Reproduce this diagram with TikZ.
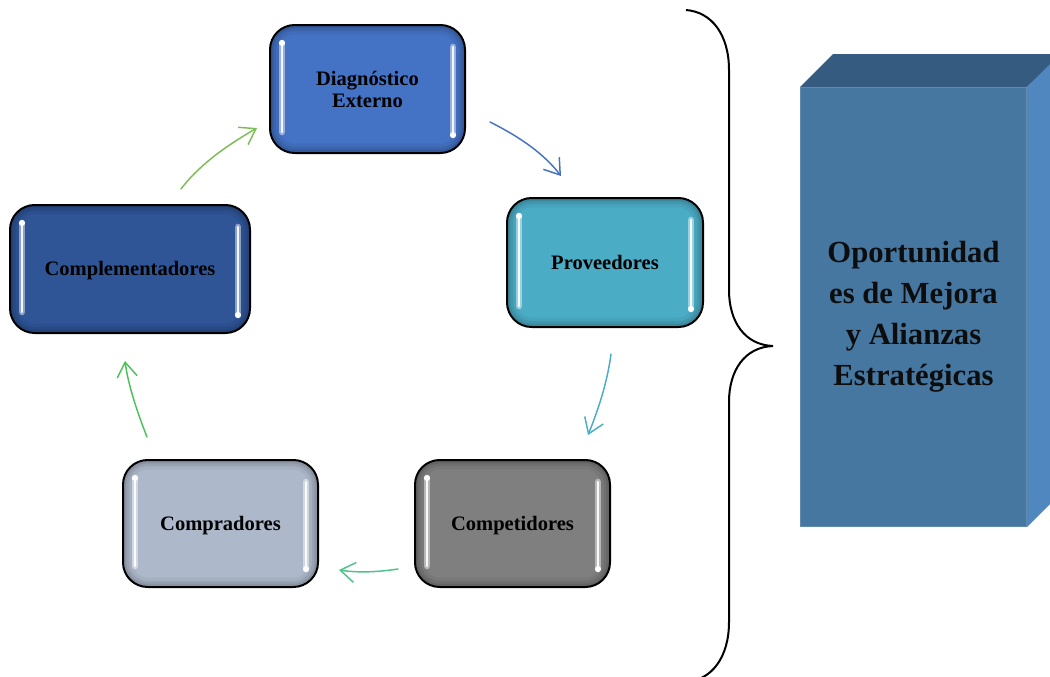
\documentclass[tikz,border=0pt]{standalone}
\usepackage{fontspec}
\setmainfont{Liberation Serif}
\usetikzlibrary{calc,arrows.meta}

\definecolor{diagblue}{HTML}{4472C4}
\definecolor{provteal}{HTML}{4BACC6}
\definecolor{compgray}{HTML}{7F7F7F}
\definecolor{comprgray}{HTML}{ADB9CA}
\definecolor{compldark}{HTML}{2F5597}
\definecolor{arrA}{HTML}{4472C4}
\definecolor{arrB}{HTML}{4BACC6}
\definecolor{arrC}{HTML}{4CC38A}
\definecolor{arrD}{HTML}{4DC05C}
\definecolor{arrE}{HTML}{7CBD55}
\definecolor{cubefront}{HTML}{4577A0}
\definecolor{cubetop}{HTML}{355C80}
\definecolor{cubeside}{HTML}{5087BE}

\tikzset{
  cyclebox/.style={
    draw=black, line width=1.5pt, rounded corners=18.5pt,
    font=\bfseries\fontsize{15.4}{16.5}\selectfont,
    align=center, text=black, inner sep=0pt,
    path picture={
      % soft inner shadow along the rim
      \foreach \w/\o in {14pt/0.05,9pt/0.07,5pt/0.09}
        \draw[black, opacity=\o, line width=\w, rounded corners=18.5pt]
          (path picture bounding box.north west) rectangle (path picture bounding box.south east);
      % glossy vertical highlights
      \coordinate (hlA) at ($(path picture bounding box.north west)+(12,18)$);
      \coordinate (hlB) at ($(path picture bounding box.south west)+(12,-21)$);
      \coordinate (hlC) at ($(path picture bounding box.north east)+(-12,22)$);
      \coordinate (hlD) at ($(path picture bounding box.south east)+(-12,-18)$);
      \draw[white, opacity=0.45, line width=5pt, line cap=round] (hlA) -- (hlB);
      \draw[white, opacity=0.45, line width=5pt, line cap=round] (hlC) -- (hlD);
      \draw[white, opacity=0.9, line width=2pt, line cap=round] (hlA) -- (hlB);
      \draw[white, opacity=0.9, line width=2pt, line cap=round] (hlC) -- (hlD);
      \fill[white] (hlA) circle (2.3pt);
      \fill[white] (hlD) circle (2.3pt);
    }
  },
  oneline/.style={text height=13.5pt, text depth=3.4pt},
  cyclearrow/.style={line width=1.1pt, line cap=round,
    -{Straight Barb[length=11pt,width=15pt,line width=1.1pt]}},
  bracestroke/.style={draw=black, line width=1.5pt},
  bigtext/.style={font=\bfseries\fontsize{23}{30.75}\selectfont, align=center, text=black!95}
}

\begin{document}
\begin{tikzpicture}[x=0.75pt,y=-0.75pt]
  \useasboundingbox (0,0) rectangle (1050,676);
  \clip (0,0) rectangle (1050,676);

  % cycle boxes
  \node[cyclebox, fill=diagblue, minimum width=146.25pt, minimum height=96pt]
    (diag) at (367.5,89) {Diagnóstico\\Externo};
  \node[cyclebox, oneline, fill=provteal, minimum width=147pt, minimum height=96.75pt]
    (prov) at (605,262.5) {Proveedores};
  \node[cyclebox, oneline, fill=compgray, minimum width=146.25pt, minimum height=95.25pt]
    (comp) at (512.5,523.5) {Competidores};
  \node[cyclebox, oneline, fill=comprgray, minimum width=146.25pt, minimum height=95.25pt]
    (compr) at (220.5,523.5) {Compradores};
  \node[cyclebox, oneline, fill=compldark, minimum width=180pt, minimum height=96pt]
    (compl) at (130,269) {Complementadores};

  % curved arrows of the cycle
  \draw[cyclearrow, arrA] ($(diag.south east)+(24,-32)$)
    .. controls +(32,16) and +(-16,-21) .. ($(prov.north)+(-44,-21)$);
  \draw[cyclearrow, arrB] ($(prov.south)+(6,26)$)
    .. controls +(-3,23) and +(13,-32) .. ($(comp.north east)+(-23,-24)$);
  \draw[cyclearrow, arrC] ($(comp.west)+(-16,45.5)$)
    .. controls +(-20,3) and +(20,3) .. ($(compr.east)+(20,46.5)$);
  \draw[cyclearrow, arrD] ($(compr.north west)+(25,-22)$)
    .. controls +(-13,-33) and +(2.5,19) .. ($(compl.south)+(-5,27)$);
  \draw[cyclearrow, arrE] ($(compl.north)+(51,-15)$)
    .. controls +(15.6,-20.8) and +(-35.7,20.5) .. ($(diag.west)+(-12,39)$);

  % curly brace
  \draw[bracestroke] (686,10) .. controls (712,12) and (729,35) .. (729,70)
    -- (729,290) .. controls (729,322) and (745,345) .. (773,346)
    .. controls (745,347) and (729,370) .. (729,402)
    -- (729,622) .. controls (729,657) and (712,680) .. (686,682);

  % 3D block
  \fill[cubetop] (800,87) -- (833,54) -- (1062,54) -- (1027,87) -- cycle;
  \fill[cubeside] (1027,87) -- (1062,52) -- (1062,492) -- (1027,527) -- cycle;
  \fill[cubefront] (800,87) rectangle (1027,527);
  \draw[white, opacity=0.15, line width=0.8pt] (800.5,87.5) rectangle (1026.5,526.5);
  \node[bigtext] (opor) at (913.5,317) {Oportunidad\\es de Mejora\\y Alianzas\\Estratégicas};
\end{tikzpicture}
\end{document}
